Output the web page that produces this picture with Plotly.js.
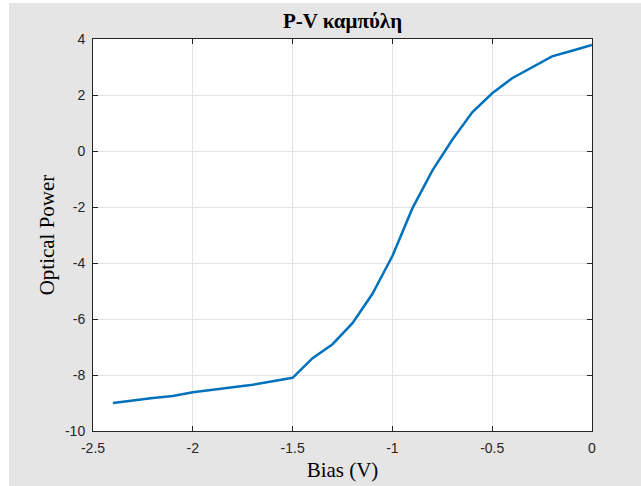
<!DOCTYPE html>
<html>
<head>
<meta charset="utf-8">
<script src="https://cdn.plot.ly/plotly-3.0.1.min.js"></script>
<style>
html,body{margin:0;padding:0;background:#ffffff;}
#chart{position:absolute;left:9px;top:3px;width:632px;height:483px;}
</style>
</head>
<body>
<div id="chart"></div>
<script>
const bias = [-2.4, -2.3, -2.2, -2.1, -2.0, -1.9, -1.8, -1.7, -1.6, -1.5, -1.4, -1.3, -1.2, -1.1, -1.0, -0.9, -0.8, -0.7, -0.6, -0.5, -0.4, -0.3, -0.2, -0.1, 0.0];
const power = [-9.0, -8.9, -8.82, -8.75, -8.62, -8.53, -8.44, -8.35, -8.22, -8.1, -7.4, -6.9, -6.15, -5.1, -3.75, -2.05, -0.7, 0.4, 1.38, 2.06, 2.6, 3.0, 3.38, 3.58, 3.79];
const xTicks = [-2.5, -2, -1.5, -1, -0.5, 0];
const xTickLabels = ['-2.5', '-2', '-1.5', '-1', '-0.5', '0'];
const yTicks = [-10, -8, -6, -4, -2, 0, 2, 4];
const yTickLabels = ['-10', '-8', '-6', '-4', '-2', '0', '2', '4'];
const titleText = 'P-V καμπύλη';
const xTitle = 'Bias (V)';
const yTitle = 'Optical Power';

const axisCommon = {
  showline: true, linecolor: '#262626', linewidth: 1, mirror: 'ticks',
  ticks: 'inside', ticklen: 5, tickcolor: '#262626', tickwidth: 1,
  showgrid: true, gridcolor: '#e3e3e3', gridwidth: 1,
  zeroline: false,
  tickfont: {family: 'Liberation Sans, Arial, sans-serif', size: 14, color: '#262626'}
};

const layout = {
  width: 632, height: 483,
  paper_bgcolor: '#e5e5e5', plot_bgcolor: '#ffffff',
  margin: {l: 84, r: 49, t: 36, b: 55},
  showlegend: false,
  title: {text: '<b>' + titleText + '</b>', font: {family: 'Liberation Serif, Times New Roman, serif', size: 21, color: '#000000'},
          x: 0.5, xref: 'paper', xanchor: 'center', y: 1 - 18/483, yref: 'container', yanchor: 'middle'},
  xaxis: Object.assign({}, axisCommon, {
    range: [-2.5, 0], tickvals: xTicks, ticktext: xTickLabels, ticklabelstandoff: 4,
    title: {text: xTitle, font: {family: 'Liberation Serif, Times New Roman, serif', size: 21, color: '#000000'}, standoff: 7}
  }),
  yaxis: Object.assign({}, axisCommon, {
    range: [-10, 4], tickvals: yTicks, ticktext: yTickLabels, ticklabelstandoff: 4,
    title: {text: yTitle, font: {family: 'Liberation Serif, Times New Roman, serif', size: 21, color: '#000000'}, standoff: 4}
  })
};

const trace = {
  x: bias, y: power, type: 'scatter', mode: 'lines',
  line: {color: '#0072BD', width: 2.5}
};

Plotly.newPlot('chart', [trace], layout, {displayModeBar: false, staticPlot: true});
</script>
</body>
</html>
